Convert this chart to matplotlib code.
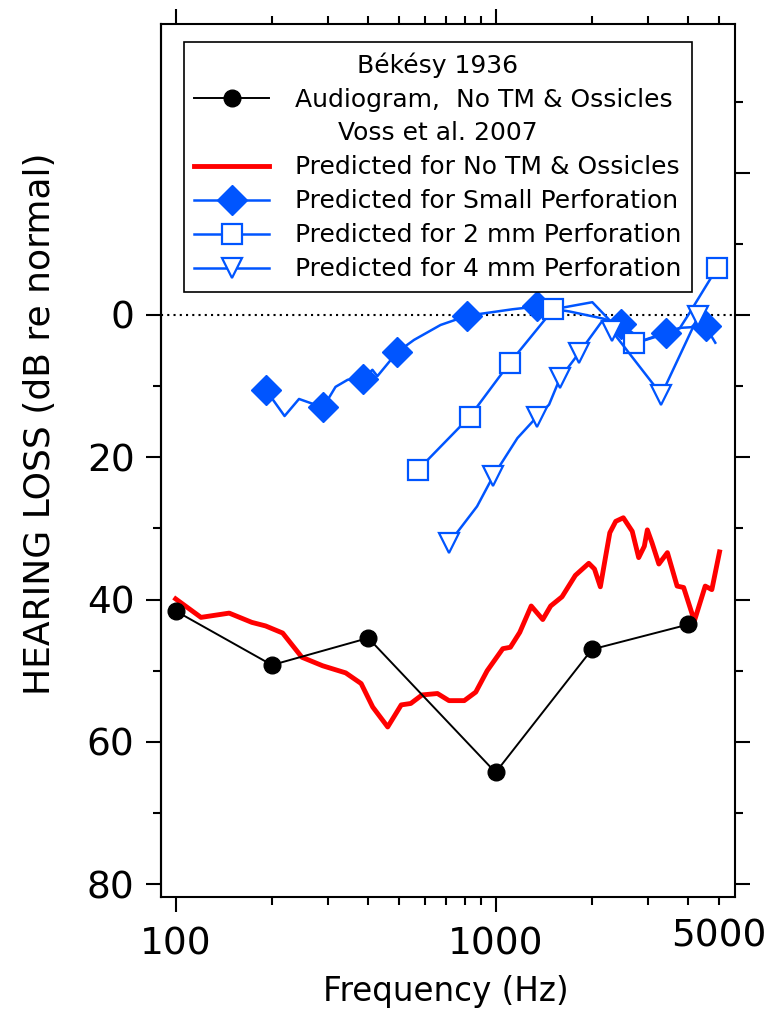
import matplotlib
matplotlib.use("Agg")
import matplotlib.pyplot as plt
from matplotlib.lines import Line2D
from matplotlib.ticker import FixedLocator, FuncFormatter, NullFormatter

plt.rcParams["font.family"] = ["DejaVu Sans"]

# Bekesy 1936 audiogram, no TM & ossicles
bekesy_freq = [100, 200, 400, 1000, 2000, 4000]
bekesy_loss = [41.6, 49.2, 45.4, 64.3, 47.0, 43.5]

# Voss et al. 2007 predictions
no_tm_freq = [100, 120, 147, 173, 191, 216, 248, 288, 340, 380, 413, 460, 507,
              543, 589, 658, 715, 798, 867, 941, 1053, 1112, 1190, 1292, 1404,
              1486, 1613, 1775, 1955, 2037, 2125, 2214, 2275, 2374, 2507, 2673,
              2800, 2916, 2980, 3081, 3238, 3443, 3692, 3870, 4180, 4520, 4740,
              5010]
no_tm_loss = [39.9, 42.5, 41.9, 43.2, 43.7, 44.7, 48.1, 49.3, 50.3, 51.8, 55.1,
              57.9, 54.8, 54.6, 53.4, 53.2, 54.2, 54.2, 53.0, 50.0, 46.9, 46.7,
              44.6, 40.9, 42.8, 40.9, 39.6, 36.6, 34.9, 35.7, 38.2, 33.6, 30.6,
              29.0, 28.5, 30.4, 34.1, 32.5, 30.2, 32.0, 35.0, 33.4, 38.1, 38.3,
              43.0, 38.1, 38.6, 33.3]

small_freq = [192, 219, 243, 289, 316, 345, 386, 412, 427, 493, 556, 673, 816,
              1127, 1347, 1700, 2165, 2458, 2900, 3419, 3800, 4530, 4860]
small_loss = [10.6, 14.2, 11.8, 13.0, 10.1, 9.1, 9.0, 7.7, 8.6, 5.2, 3.5, 1.4,
              0.1, -0.8, -1.2, -0.5, 0.5, 1.3, 3.6, 2.6, 1.8, 1.6, 3.9]
small_marks = [0, 3, 6, 9, 12, 14, 17, 19, 21]

mm2_freq = [571, 830, 885, 1108, 1515, 2006, 2290, 2707, 3150, 3770, 4000, 4920]
mm2_loss = [21.8, 14.3, 12.6, 6.7, -0.8, -1.8, 0.9, 4.0, 3.0, 1.8, 0.0, -6.6]
mm2_marks = [0, 1, 3, 4, 7, 11]

mm4_freq = [714, 875, 984, 1170, 1347, 1469, 1589, 1818, 2157, 2315, 3297, 4293]
mm4_loss = [32.1, 26.9, 22.6, 17.3, 14.3, 12.6, 8.9, 5.4, 0.8, 2.3, 11.2, 0.2]
mm4_marks = [0, 2, 4, 6, 7, 9, 10, 11]

x_major = [100, 1000]
x_minor = [200, 300, 400, 500, 600, 700, 800, 900, 2000, 3000, 4000, 5000]
y_major = [-20, 0, 20, 40, 60, 80]
y_minor = [-30, -10, 10, 30, 50, 70]

BLUE = "#0055ff"
RED = "#ff0000"

fig = plt.figure(figsize=(7.71, 10.11), dpi=100)
ax = fig.add_axes([161 / 771, 1 - 897 / 1011, 574 / 771, 873 / 1011])

ax.axhline(0, color="black", linestyle=(0, (1, 2)), linewidth=1.5, zorder=1)

ax.plot(no_tm_freq, no_tm_loss, color=RED, linewidth=3.5, zorder=2)
ax.plot(bekesy_freq, bekesy_loss, color="black", linewidth=1.4, marker="o",
        markersize=12, zorder=3)
ax.plot(small_freq, small_loss, color=BLUE, linewidth=1.8, marker="D",
        markersize=15.5, markevery=small_marks, zorder=4)
ax.plot(mm2_freq, mm2_loss, color=BLUE, linewidth=1.8, marker="s",
        markersize=14.5, markerfacecolor="white", markeredgewidth=1.6,
        markevery=mm2_marks, zorder=4)
ax.plot(mm4_freq, mm4_loss, color=BLUE, linewidth=1.8, marker="v",
        markersize=14, markerfacecolor="white", markeredgewidth=1.6,
        markevery=mm4_marks, zorder=4)

# axes
ax.set_xscale("log")
ax.set_xlim(90, 5600)
ax.set_ylim(81.8, -40.9)
ax.xaxis.set_major_locator(FixedLocator(x_major))
ax.xaxis.set_minor_locator(FixedLocator(x_minor))
ax.xaxis.set_major_formatter(FuncFormatter(lambda v, p: f"{v:.0f}"))
ax.xaxis.set_minor_formatter(FuncFormatter(lambda v, p: "5000" if abs(v - 5000) < 1 else ""))
ax.yaxis.set_major_locator(FixedLocator(y_major))
ax.yaxis.set_minor_locator(FixedLocator(y_minor))
ax.yaxis.set_major_formatter(FuncFormatter(lambda v, p: "" if v < 0 else f"{v:.0f}"))
ax.yaxis.set_minor_formatter(NullFormatter())

for s in ax.spines.values():
    s.set_linewidth(1.5)
ax.tick_params(which="both", direction="out", top=True, right=True, width=1.5)
ax.tick_params(which="major", length=11)
ax.tick_params(which="minor", length=5.5)
ax.tick_params(axis="x", which="both", labelsize=27, pad=10)
ax.tick_params(axis="y", which="both", labelsize=27, pad=8, left=False)

# left-hand ticks only from 0 downwards, as in the original
sec = ax.secondary_yaxis("left")
sec.yaxis.set_major_locator(FixedLocator([v for v in y_major if v >= 0]))
sec.yaxis.set_minor_locator(FixedLocator([v for v in y_minor if v >= 0]))
sec.yaxis.set_major_formatter(NullFormatter())
sec.yaxis.set_minor_formatter(NullFormatter())
sec.spines["left"].set_linewidth(1.5)
sec.tick_params(which="both", direction="out", width=1.5, labelleft=False)
sec.tick_params(which="major", length=11)
sec.tick_params(which="minor", length=5.5)

ax.set_xlabel("Frequency (Hz)", fontsize=23.5)
ax.set_ylabel("HEARING LOSS (dB re normal)", fontsize=26)
ax.xaxis.set_label_coords(0.497, -0.089)
ax.yaxis.set_label_coords(-0.181, 0.542)

# legend with two centred header rows
blank = Line2D([], [], linestyle="none")
handles = [
    blank,
    Line2D([], [], color="black", linewidth=1.4, marker="o", markersize=12),
    blank,
    Line2D([], [], color=RED, linewidth=3.5),
    Line2D([], [], color=BLUE, linewidth=1.8, marker="D", markersize=15.5),
    Line2D([], [], color=BLUE, linewidth=1.8, marker="s", markersize=14.5,
           markerfacecolor="white", markeredgewidth=1.6),
    Line2D([], [], color=BLUE, linewidth=1.8, marker="v", markersize=14,
           markerfacecolor="white", markeredgewidth=1.6),
]
labels = [
    "Békésy 1936",
    "Audiogram,  No TM & Ossicles",
    "Voss et al. 2007",
    "Predicted for No TM & Ossicles",
    "Predicted for Small Perforation",
    "Predicted for 2 mm Perforation",
    "Predicted for 4 mm Perforation",
]
leg = ax.legend(handles, labels, loc="upper left",
                bbox_to_anchor=((184 - 161) / 574, 1 - (42 - 24) / 873),
                borderaxespad=0, fontsize=18, numpoints=1, handlelength=3.0,
                handletextpad=1.05, labelspacing=0.4, borderpad=0.4,
                fancybox=False, framealpha=1, edgecolor="black")
leg.get_frame().set_linewidth(1.2)

fig.canvas.draw()
renderer = fig.canvas.get_renderer()
frame_bb = leg.get_frame().get_window_extent(renderer)
for i in (0, 2):
    t = leg.get_texts()[i]
    bb = t.get_window_extent(renderer)
    t.set_visible(False)
    fig.text((frame_bb.x0 + frame_bb.x1) / 2 / fig.bbox.width,
             (bb.y0 + bb.y1) / 2 / fig.bbox.height, labels[i],
             ha="center", va="center", fontsize=18)

fig.savefig("out.png", dpi=100)
